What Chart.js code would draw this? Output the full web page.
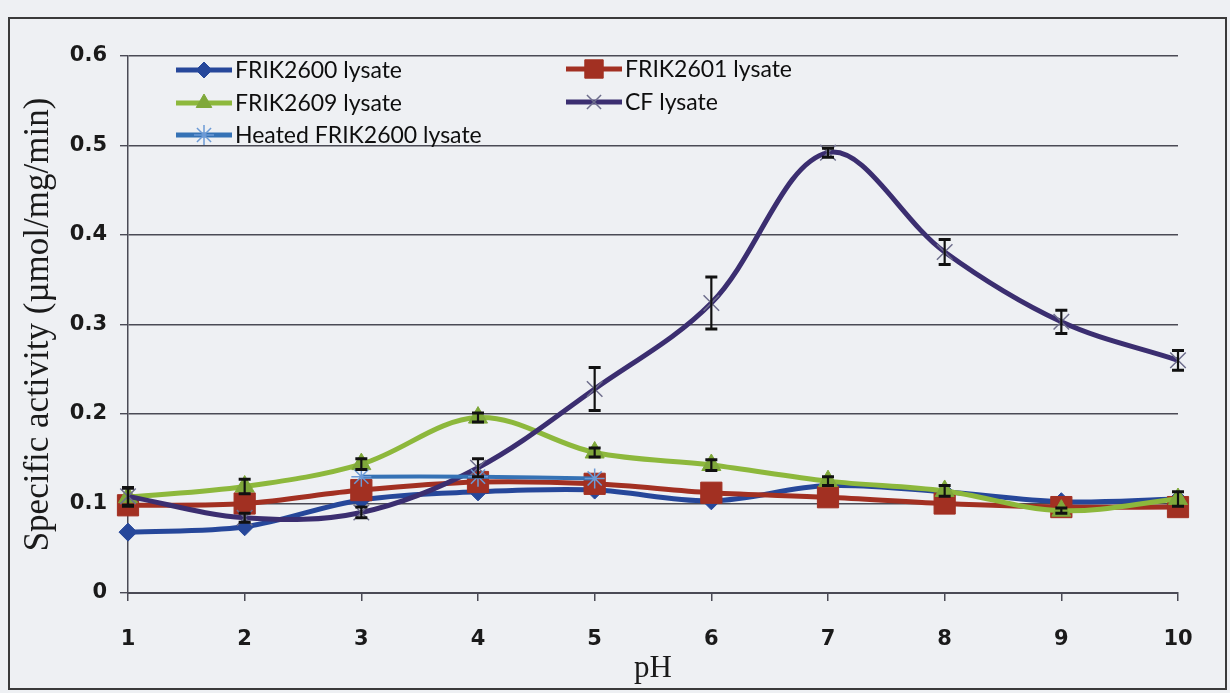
<!DOCTYPE html>
<html>
<head>
<meta charset="utf-8">
<title>Specific activity vs pH</title>
<script src="https://cdn.jsdelivr.net/npm/chart.js@4/dist/chart.umd.min.js"></script>
<style>
  html, body { margin: 0; padding: 0; background: #eef0f3; }
  canvas { display: block; }
</style>
</head>
<body>
<canvas id="c" width="1230" height="693"></canvas>
<script>
// pH values on the category axis
const phLabels = ['1', '2', '3', '4', '5', '6', '7', '8', '9', '10'];

// Specific activity (µmol/mg/min) per lysate
const frik2600 = [0.068, 0.074, 0.104, 0.113, 0.115, 0.103, 0.120, 0.113, 0.102, 0.105];
const frik2601 = [0.098, 0.100, 0.115, 0.124, 0.122, 0.112, 0.107, 0.100, 0.096, 0.096];
const frik2609 = [0.107, 0.119, 0.144, 0.196, 0.157, 0.143, 0.125, 0.114, 0.092, 0.105];
const cfLysate = [0.108, 0.084, 0.090, 0.140, 0.228, 0.324, 0.492, 0.381, 0.303, 0.260];
const heated2600 = [null, null, 0.130, 0.130, 0.128, null, null, null, null, null];

// Standard deviations (± error bars)
const frik2609Err = [0.010, 0.008, 0.006, 0.005, 0.005, 0.006, 0.005, 0.006, 0.003, 0.008];
const cfLysateErr = [0.010, 0.005, 0.006, 0.010, 0.024, 0.029, 0.005, 0.014, 0.013, 0.011];

// Y-axis tick values
const yTicks = [0, 0.1, 0.2, 0.3, 0.4, 0.5, 0.6];

const seriesNames = ['FRIK2600 lysate', 'FRIK2601 lysate', 'FRIK2609 lysate', 'CF lysate', 'Heated FRIK2600 lysate'];

// Page background and outer frame
const framePlugin = {
  id: 'frame',
  beforeDraw(chart) {
    const { ctx, width, height } = chart;
    ctx.save();
    ctx.fillStyle = '#eef0f3';
    ctx.fillRect(0, 0, width, height);
    ctx.strokeStyle = '#3a3a3a';
    ctx.lineWidth = 2;
    ctx.strokeRect(9, 18, 1217, 671);
    ctx.restore();
  }
};

// Vertical error bars with caps, from each dataset's "errors" array
const errorBarPlugin = {
  id: 'errorBars',
  afterDatasetsDraw(chart) {
    const { ctx } = chart;
    const y = chart.scales.y;
    chart.data.datasets.forEach((ds, i) => {
      if (!ds.errors) return;
      const meta = chart.getDatasetMeta(i);
      meta.data.forEach((pt, j) => {
        const v = ds.data[j];
        const e = ds.errors[j];
        if (v == null || !e) return;
        const top = y.getPixelForValue(v + e);
        const bot = y.getPixelForValue(v - e);
        ctx.save();
        ctx.strokeStyle = '#111';
        ctx.lineWidth = 2.2;
        ctx.beginPath();
        ctx.moveTo(pt.x, top);
        ctx.lineTo(pt.x, bot);
        ctx.stroke();
        ctx.lineWidth = 3;
        ctx.beginPath();
        ctx.moveTo(pt.x - 6, top);
        ctx.lineTo(pt.x + 6, top);
        ctx.moveTo(pt.x - 6, bot);
        ctx.lineTo(pt.x + 6, bot);
        ctx.stroke();
        ctx.restore();
      });
    });
  }
};

// Two-column legend inside the plot, top-left
const legendPlugin = {
  id: 'insideLegend',
  afterDraw(chart) {
    const { ctx } = chart;
    const slots = [
      { x: 176, y: 70 }, { x: 566, y: 69 },
      { x: 176, y: 103 }, { x: 566, y: 102 },
      { x: 176, y: 135 }
    ];
    chart.data.datasets.forEach((ds, i) => {
      const s = slots[i];
      if (!s) return;
      ctx.save();
      ctx.strokeStyle = ds.borderColor;
      ctx.lineWidth = 5;
      ctx.lineCap = 'butt';
      ctx.beginPath();
      ctx.moveTo(s.x, s.y);
      ctx.lineTo(s.x + 56, s.y);
      ctx.stroke();
      ctx.fillStyle = ds.pointBackgroundColor;
      ctx.strokeStyle = ds.pointBorderColor;
      ctx.lineWidth = ds.pointBorderWidth;
      Chart.helpers.drawPoint(ctx, {
        pointStyle: ds.pointStyle,
        radius: ds.legendRadius,
        borderWidth: ds.pointBorderWidth,
        rotation: 0
      }, s.x + 28, s.y);
      ctx.fillStyle = '#0e0e0e';
      ctx.font = '23px Lato';
      ctx.textBaseline = 'middle';
      ctx.textAlign = 'left';
      ctx.fillText(ds.label, s.x + 59, s.y + 1);
      ctx.restore();
    });
  }
};

const ctx = document.getElementById('c').getContext('2d');

new Chart(ctx, {
  type: 'line',
  data: {
    labels: phLabels,
    datasets: [
      {
        label: seriesNames[0], data: frik2600, order: 5,
        borderColor: '#26479a', borderWidth: 5,
        pointStyle: 'rectRot', pointRadius: 9, legendRadius: 8,
        pointBackgroundColor: '#26479a', pointBorderColor: '#26479a', pointBorderWidth: 1
      },
      {
        label: seriesNames[1], data: frik2601, order: 4,
        borderColor: '#a23022', borderWidth: 5,
        pointStyle: 'rect', pointRadius: 15, legendRadius: 13,
        pointBackgroundColor: '#a23022', pointBorderColor: '#a23022', pointBorderWidth: 1
      },
      {
        label: seriesNames[2], data: frik2609, order: 3, errors: frik2609Err,
        borderColor: '#8db83c', borderWidth: 5,
        pointStyle: 'triangle', pointRadius: 11, legendRadius: 9,
        pointBackgroundColor: '#7fa83a', pointBorderColor: '#7fa83a', pointBorderWidth: 1
      },
      {
        label: seriesNames[3], data: cfLysate, order: 2, errors: cfLysateErr,
        borderColor: '#3b2e70', borderWidth: 5,
        pointStyle: 'crossRot', pointRadius: 11, legendRadius: 10,
        pointBackgroundColor: '#6e6e8c', pointBorderColor: '#6e6e8c', pointBorderWidth: 1.5
      },
      {
        label: seriesNames[4], data: heated2600, order: 1,
        borderColor: '#3572b5', borderWidth: 4,
        pointStyle: 'star', pointRadius: 10, legendRadius: 10,
        pointBackgroundColor: '#6c9ad6', pointBorderColor: '#6c9ad6', pointBorderWidth: 1.5
      }
    ]
  },
  options: {
    responsive: false,
    animation: false,
    devicePixelRatio: 1,
    layout: { padding: { top: 56, right: 52, bottom: 0, left: 0 } },
    elements: { line: { tension: 0.35, capBezierPoints: true } },
    plugins: {
      legend: { display: false },
      tooltip: { enabled: false }
    },
    scales: {
      x: {
        type: 'category',
        offset: false,
        grid: { display: true, drawOnChartArea: false, drawTicks: true, tickLength: 8, color: '#4a4a55', lineWidth: 1.5 },
        border: { display: true, color: '#4a4a55', width: 2 },
        ticks: { color: '#1a1a1a', font: { family: 'DejaVu Sans', size: 21, weight: 'bold' }, padding: 26, maxRotation: 0 },
        title: { display: true, text: 'pH', color: '#1a1a1a', font: { family: 'Liberation Serif', size: 31 }, padding: { top: 0, bottom: 6 } },
        afterFit(scale) { scale.height = 100; }
      },
      y: {
        min: 0, max: 0.6,
        afterBuildTicks(scale) { scale.ticks = yTicks.map(v => ({ value: v })); },
        grid: { color: '#4a4a55', lineWidth: 1.4, tickLength: 8 },
        border: { display: true, color: '#4a4a55', width: 1.5 },
        ticks: {
          color: '#1a1a1a', font: { family: 'DejaVu Sans', size: 21, weight: 'bold' }, padding: 13,
          callback: v => (v === 0 ? '0' : v.toFixed(1))
        },
        title: { display: true, text: 'Specific activity (µmol/mg/min)', color: '#1a1a1a', font: { family: 'Liberation Serif', size: 35 }, padding: { top: 18, bottom: 0 } },
        afterFit(scale) { scale.width = 128; }
      }
    }
  },
  plugins: [framePlugin, errorBarPlugin, legendPlugin]
});
</script>
</body>
</html>
